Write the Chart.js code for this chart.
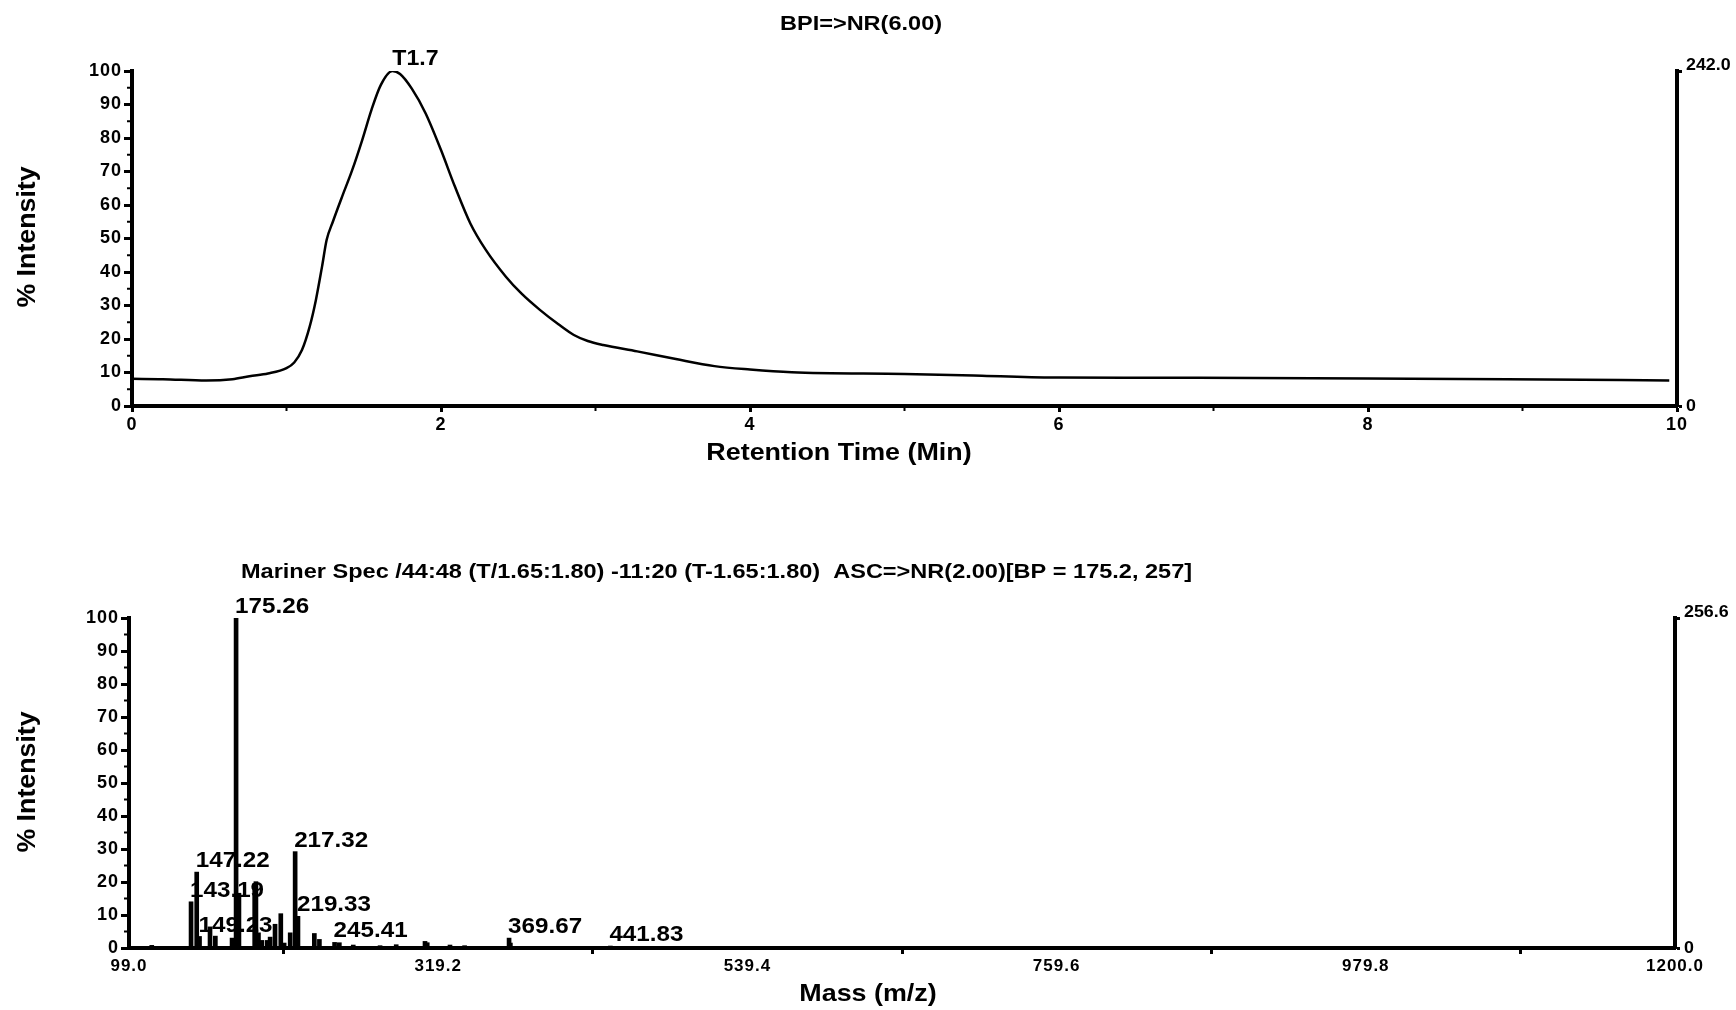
<!DOCTYPE html>
<html>
<head>
<meta charset="utf-8">
<script src="https://cdn.jsdelivr.net/npm/chart.js@4.4.1/dist/chart.umd.min.js"></script>
<style>
  body { margin: 0; background: #fff; }
  canvas { display: block; position: absolute; left: 0; }
  #bpi { top: 0; }
  #spec { top: 490px; }
</style>
</head>
<body>
<canvas id="bpi" width="1736" height="490"></canvas>
<canvas id="spec" width="1736" height="520"></canvas>
<script>
// BPI chromatogram (retention time in min, % intensity)
const rtTimes = [0.00, 0.20, 0.48, 0.65, 0.76, 0.88, 1.00, 1.05, 1.10, 1.15, 1.19, 1.23, 1.26, 1.30, 1.36,
  1.425, 1.49, 1.55, 1.61, 1.685, 1.735, 1.81, 1.90, 2.00, 2.09, 2.19, 2.29, 2.42, 2.52, 2.64, 2.76,
  2.86, 2.95, 3.05, 3.27, 3.52, 3.77, 4.00, 4.27, 5.00, 5.50, 6.00, 6.90, 8.00, 8.90, 9.95];
const rtIntensity = [8.1, 8.0, 7.6, 8.0, 8.9, 9.7, 11.3, 13.0, 16.7, 23.7, 31.6, 41.6, 49.6, 55.0, 62.5,
  70.4, 79.4, 88.4, 95.8, 100, 99.1, 94.8, 87.4, 76.4, 65.5, 54.5, 46.6, 38.6, 33.6, 28.7, 24.4,
  21.2, 19.4, 18.2, 16.3, 14.0, 11.9, 10.9, 10.1, 9.55, 9.05, 8.5, 8.45, 8.2, 8.0, 7.6];
const rtTicks = [0, 2, 4, 6, 8, 10];
const rtMinorTicks = [1, 3, 5, 7, 9];
const bpiMax = 242.0;
const bpiPeakLabel = 'T1.7';

// mass spectrum (m/z, % intensity)
const massValues = [115.2, 143.19, 147.22, 149.23, 156.7, 160.5, 172.4, 175.26, 177.3, 188.5, 189.4,
  191.2, 193.6, 197.4, 199.5, 203.0, 207.1, 209.5, 213.8, 217.32, 219.33, 231.0, 234.6, 245.41, 248.8,
  258.7, 277.8, 289.3, 309.8, 311.4, 327.6, 338.0, 369.67, 370.6, 393.8, 441.83];
const massIntensity = [0.8, 14.0, 23.0, 3.5, 6.4, 3.6, 3.0, 100, 16.6, 19.5, 20.1,
  4.6, 2.3, 2.3, 3.3, 7.2, 10.4, 1.5, 4.6, 29.2, 9.6, 4.4, 2.6, 1.7, 1.6,
  0.9, 0.7, 1.0, 2.0, 1.6, 0.9, 0.7, 3.0, 1.5, 0.4, 0.6];
const massTicks = [99.0, 319.2, 539.4, 759.6, 979.8, 1200.0];
const specMax = 256.6;
const peakLabels = ['175.26', '147.22', '143.19', '149.23', '217.32', '219.33', '245.41', '369.67', '441.83'];

const FONT = '"Liberation Sans", Arial, Helvetica, sans-serif';
Chart.defaults.font.family = FONT;
Chart.defaults.font.weight = 'bold';
Chart.defaults.color = '#000';

const axisBorder = { display: true, color: '#000', width: 4 };
const axisGrid = len => ({ drawOnChartArea: false, drawTicks: true, tickLength: len, tickWidth: 3, tickColor: '#000' });

// draw a piece of text, optionally rotated and stretched along its run
function drawText(ctx, text, x, y, size, align, rotate, sx) {
    ctx.save();
    ctx.font = `bold ${size}px ${FONT}`;
    ctx.fillStyle = '#000';
    ctx.textAlign = align || 'center';
    ctx.textBaseline = 'middle';
    ctx.translate(x, y);
    if (rotate) ctx.rotate(rotate);
    ctx.scale(sx || 1, 1);
    ctx.fillText(text, 0, 0);
    ctx.restore();
}

// small ticks between the labelled ones
function minorTicks(chart, values, axis) {
    const ctx = chart.ctx;
    const area = chart.chartArea;
    ctx.save();
    ctx.strokeStyle = '#000';
    ctx.lineWidth = 2;
    values.forEach(v => {
        ctx.beginPath();
        if (axis === 'x') {
            const px = chart.scales.x.getPixelForValue(v);
            ctx.moveTo(px, area.bottom);
            ctx.lineTo(px, area.bottom + 5);
        } else {
            const py = chart.scales.y.getPixelForValue(v);
            ctx.moveTo(area.left, py);
            ctx.lineTo(area.left - 5, py);
        }
        ctx.stroke();
    });
    ctx.restore();
}

// labels of the right-hand axis (top one sits a bit above its tick)
function rightLabels(chart, max) {
    const s = chart.scales.y2;
    const x = chart.chartArea.right + 9;
    drawText(chart.ctx, max.toFixed(1), x, s.getPixelForValue(max) - 6, 17, 'left', 0, 1.05);
    drawText(chart.ctx, '0', x, s.getPixelForValue(0), 17, 'left', 0, 1.05);
}

const yMinor = [5, 15, 25, 35, 45, 55, 65, 75, 85, 95];

const spacing = {
    id: 'spacing',
    beforeDraw(chart) { chart.ctx.letterSpacing = '1px'; }
};

const bpiText = {
    id: 'bpiText',
    afterDraw(chart) {
        const ctx = chart.ctx;
        ctx.letterSpacing = '0px';
        drawText(ctx, 'BPI=>NR(6.00)', 861, 24, 21, 'center', 0, 1.12);
        drawText(ctx, 'Retention Time (Min)', 839, 453, 24, 'center', 0, 1.12);
        drawText(ctx, '% Intensity', 28, 237, 25, 'center', -Math.PI / 2, 1.07);
        minorTicks(chart, rtMinorTicks, 'x');
        minorTicks(chart, yMinor, 'y');
        rightLabels(chart, bpiMax);
        // label the top of the peak
        const top = rtIntensity.indexOf(Math.max(...rtIntensity));
        const px = chart.scales.x.getPixelForValue(rtTimes[top]);
        const py = chart.scales.y.getPixelForValue(rtIntensity[top]);
        drawText(ctx, bpiPeakLabel, px, py - 12, 22, 'left', 0, 1.05);
    }
};

const specText = {
    id: 'specText',
    beforeDatasetsDraw(chart) {
        const ctx = chart.ctx;
        ctx.letterSpacing = '0px';
        peakLabels.forEach(lab => {
            const i = massValues.indexOf(parseFloat(lab));
            if (i < 0) return;
            const px = chart.scales.x.getPixelForValue(massValues[i]);
            const py = chart.scales.y.getPixelForValue(massIntensity[i]);
            drawText(ctx, lab, px - 1, py - 11, 22, 'left', 0, 1.1);
        });
    },
    afterDraw(chart) {
        const ctx = chart.ctx;
        ctx.letterSpacing = '0px';
        drawText(ctx, 'Mariner Spec /44:48 (T/1.65:1.80) -11:20 (T-1.65:1.80)  ASC=>NR(2.00)[BP = 175.2, 257]', 241, 82, 21, 'left', 0, 1.12);
        drawText(ctx, 'Mass (m/z)', 868, 504, 24, 'center', 0, 1.12);
        drawText(ctx, '% Intensity', 28, 292, 25, 'center', -Math.PI / 2, 1.07);
        const mids = [];
        for (let i = 0; i < massTicks.length - 1; i++) mids.push((massTicks[i] + massTicks[i + 1]) / 2);
        minorTicks(chart, mids, 'x');
        minorTicks(chart, yMinor, 'y');
        rightLabels(chart, specMax);
    }
};

const baseOptions = (padTop, xHeight, yWidth, y2Width, rightMax) => ({
    responsive: false,
    animation: false,
    devicePixelRatio: 1,
    layout: { padding: { top: padTop, left: 0, right: 0, bottom: 0 } },
    plugins: { legend: { display: false }, tooltip: { enabled: false }, title: { display: false } },
    scales: {
        x: {
            type: 'linear',
            offset: false,
            ticks: { font: { size: 18 }, padding: 2, maxRotation: 0, autoSkip: false },
            grid: axisGrid(6),
            border: axisBorder,
            afterFit: s => { s.height = xHeight; }
        },
        y: {
            min: 0, max: 100,
            ticks: { stepSize: 10, font: { size: 18 }, padding: 2 },
            grid: axisGrid(8),
            border: axisBorder,
            afterFit: s => { s.width = yWidth; }
        },
        y2: {
            position: 'right',
            min: 0, max: rightMax,
            afterBuildTicks: s => { s.ticks = [{ value: 0 }, { value: rightMax }]; },
            ticks: { display: false },
            grid: axisGrid(5),
            border: axisBorder,
            afterFit: s => { s.width = y2Width; }
        }
    }
});

// top: chromatogram
const bpiOpts = baseOptions(71, 84, 132, 59, bpiMax);
bpiOpts.scales.x.min = 0;
bpiOpts.scales.x.max = 10;
bpiOpts.scales.x.afterBuildTicks = s => { s.ticks = rtTicks.map(v => ({ value: v })); };
bpiOpts.scales.x.ticks.callback = v => String(v);

new Chart(document.getElementById('bpi'), {
    type: 'line',
    data: {
        datasets: [{
            data: rtTimes.map((t, i) => ({ x: t, y: rtIntensity[i] })),
            borderColor: '#000',
            borderWidth: 2.5,
            pointRadius: 0,
            cubicInterpolationMode: 'monotone',
            fill: false
        }]
    },
    options: bpiOpts,
    plugins: [spacing, bpiText]
});

// bottom: mass spectrum
const specOpts = baseOptions(128, 62, 129, 61, specMax);
specOpts.scales.x.min = massTicks[0];
specOpts.scales.x.max = massTicks[massTicks.length - 1];
specOpts.scales.x.afterBuildTicks = s => { s.ticks = massTicks.map(v => ({ value: v })); };
specOpts.scales.x.ticks.callback = v => v.toFixed(1);
specOpts.scales.x.ticks.font = { size: 17 };

new Chart(document.getElementById('spec'), {
    type: 'bar',
    data: {
        datasets: [{
            data: massValues.map((m, i) => ({ x: m, y: massIntensity[i] })),
            backgroundColor: '#000',
            barThickness: 4,
            grouped: false
        }]
    },
    options: specOpts,
    plugins: [spacing, specText]
});
</script>
</body>
</html>
